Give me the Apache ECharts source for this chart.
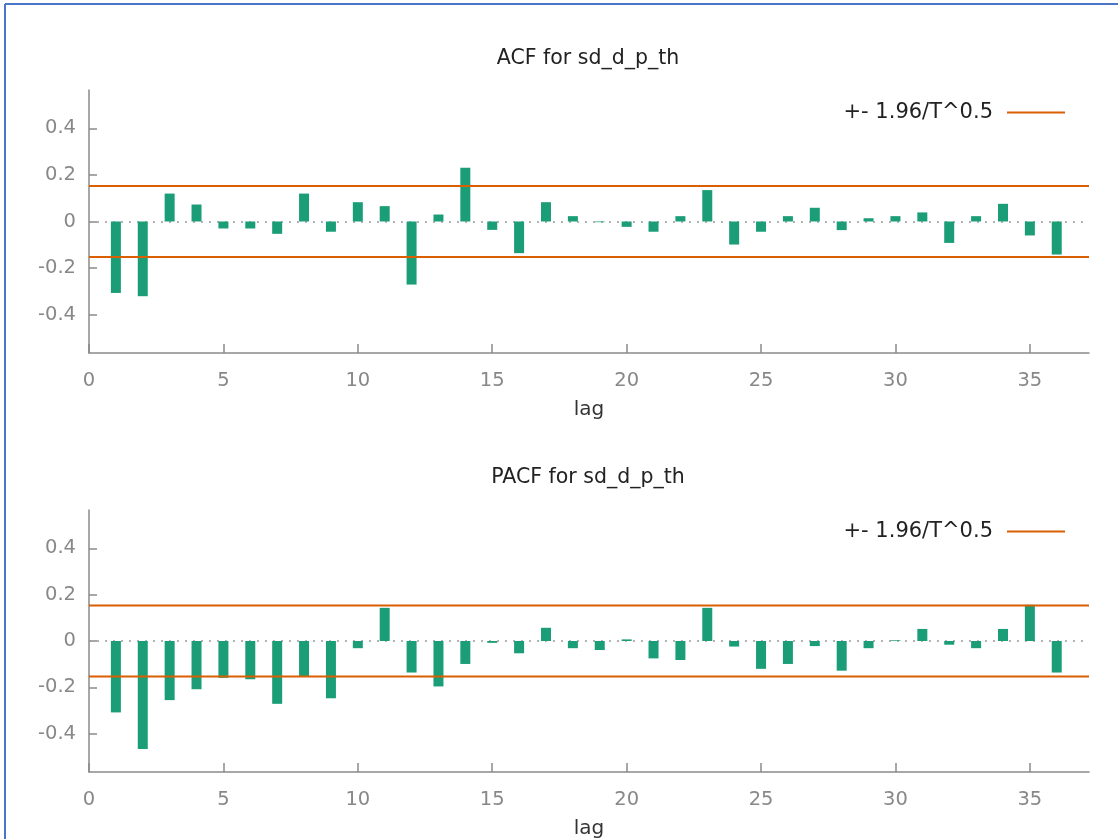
<!DOCTYPE html>
<html>
<head>
<meta charset="utf-8">
<title>ACF / PACF for sd_d_p_th</title>
<script src="https://cdn.jsdelivr.net/npm/echarts@6/dist/echarts.min.js"></script>
<style>
  html, body { margin: 0; padding: 0; background: #ffffff; }
  #chart { width: 1118px; height: 839px; }
</style>
</head>
<body>
<div id="chart"></div>
<script>
// Correlogram of sd_d_p_th, lags 1..36
const lags = [1, 2, 3, 4, 5, 6, 7, 8, 9, 10, 11, 12, 13, 14, 15, 16, 17, 18,
              19, 20, 21, 22, 23, 24, 25, 26, 27, 28, 29, 30, 31, 32, 33, 34, 35, 36];

const acfValues = [-0.307, -0.321, 0.120, 0.073, -0.030, -0.030, -0.053, 0.120, -0.044, 0.083,
                   0.066, -0.271, 0.030, 0.231, -0.036, -0.136, 0.083, 0.023, -0.003, -0.023,
                   -0.044, 0.023, 0.135, -0.099, -0.044, 0.023, 0.059, -0.037, 0.014, 0.023,
                   0.039, -0.092, 0.023, 0.076, -0.060, -0.142];

const pacfValues = [-0.308, -0.466, -0.255, -0.208, -0.159, -0.165, -0.271, -0.151, -0.247, -0.031,
                    0.143, -0.136, -0.196, -0.099, -0.008, -0.053, 0.057, -0.031, -0.039, 0.007,
                    -0.075, -0.082, 0.143, -0.024, -0.120, -0.099, -0.022, -0.128, -0.031, 0.003,
                    0.052, -0.016, -0.031, 0.052, 0.156, -0.136];

// 1.96 / sqrt(T) significance band
const confBand = 0.153;
const bandName = '+- 1.96/T^0.5';

const panelTitles = ['ACF for sd_d_p_th', 'PACF for sd_d_p_th'];
const xAxisName = 'lag';
const xTicks = [0, 5, 10, 15, 20, 25, 30, 35];
const yTicks = [-0.4, -0.2, 0, 0.2, 0.4];
const xRange = [0, 37.2];
const yRange = [-0.565, 0.565];

const FONT = 'DejaVu Sans';
const BAR_COLOR = '#1b9e77';
const BAND_COLOR = '#d95f02';
const AXIS_COLOR = '#8a8a8a';
const LABEL_COLOR = '#888888';

const grids = [
  { left: 89, right: 29, top: 90, height: 263, outerBoundsMode: 'none' },
  { left: 89, right: 29, top: 510, height: 262, outerBoundsMode: 'none' }
];

function makeXAxis(i) {
  return {
    type: 'value', gridIndex: i, min: xRange[0], max: xRange[1],
    name: xAxisName, nameLocation: 'middle', nameGap: 47,
    nameTextStyle: { fontFamily: FONT, fontSize: 20, color: '#333' },
    axisLine: { show: true, onZero: false, lineStyle: { color: AXIS_COLOR, width: 1.5 } },
    axisTick: { show: true, inside: true, length: 9, customValues: xTicks, lineStyle: { color: AXIS_COLOR, width: 1.5 } },
    axisLabel: { show: true, customValues: xTicks, margin: 18, fontFamily: FONT, fontSize: 19.5, color: LABEL_COLOR },
    splitLine: { show: false }
  };
}

function makeYAxis(i) {
  return {
    type: 'value', gridIndex: i, min: yRange[0], max: yRange[1],
    axisLine: { show: true, onZero: false, lineStyle: { color: AXIS_COLOR, width: 1.5 } },
    axisTick: { show: true, inside: true, length: 8, customValues: yTicks, lineStyle: { color: AXIS_COLOR, width: 1.5 } },
    axisLabel: { show: true, customValues: yTicks, margin: 13, fontFamily: FONT, fontSize: 19.5, color: LABEL_COLOR,
                 formatter: v => String(v) },
    splitLine: { show: false }
  };
}

function barSeries(i, values) {
  return {
    type: 'bar', xAxisIndex: i, yAxisIndex: i,
    data: lags.map((lag, k) => [lag, values[k]]),
    barWidth: 10,
    itemStyle: { color: BAR_COLOR },
    silent: true,
    z: 2,
    markLine: {
      silent: true, symbol: ['none', 'none'],
      label: { show: false },
      lineStyle: { color: '#9a9a9a', type: [2, 6], width: 1.5 },
      data: [{ yAxis: 0 }],
      z: 1
    }
  };
}

function bandSeries(i, sign) {
  return {
    name: bandName, type: 'line', xAxisIndex: i, yAxisIndex: i,
    data: [[xRange[0], sign * confBand], [xRange[1], sign * confBand]],
    showSymbol: false, symbol: 'none', silent: true,
    lineStyle: { color: BAND_COLOR, width: 2 },
    itemStyle: { color: BAND_COLOR },
    z: 3
  };
}

function legendAt(top) {
  return {
    data: [bandName], right: 48, top: top, orient: 'horizontal',
    align: 'right', icon: 'rect', itemWidth: 58, itemHeight: 2,
    selectedMode: false,
    textStyle: { fontFamily: FONT, fontSize: 21, color: '#222', padding: [0, 9, 0, 0] }
  };
}

function titleAt(text, top) {
  return {
    text: text, left: 583, top: top, textAlign: 'center', textVerticalAlign: 'top',
    textStyle: { fontFamily: FONT, fontSize: 20.5, fontWeight: 'normal', color: '#222' }
  };
}

const chart = echarts.init(document.getElementById('chart'), null, { renderer: 'canvas' });

chart.setOption({
  backgroundColor: '#ffffff',
  animation: false,
  title: [titleAt(panelTitles[0], 43), titleAt(panelTitles[1], 462)],
  legend: [legendAt(97), legendAt(516)],
  grid: grids,
  xAxis: [makeXAxis(0), makeXAxis(1)],
  yAxis: [makeYAxis(0), makeYAxis(1)],
  series: [
    barSeries(0, acfValues),
    bandSeries(0, 1), bandSeries(0, -1),
    barSeries(1, pacfValues),
    bandSeries(1, 1), bandSeries(1, -1)
  ],
  graphic: [
    // picture frame along the top and left edges
    { type: 'line', shape: { x1: 5, y1: 4, x2: 1118, y2: 4 }, style: { stroke: '#4a76c9', lineWidth: 2 }, silent: true },
    { type: 'line', shape: { x1: 5, y1: 4, x2: 5, y2: 839 }, style: { stroke: '#4a76c9', lineWidth: 2 }, silent: true }
  ]
});
</script>
</body>
</html>
